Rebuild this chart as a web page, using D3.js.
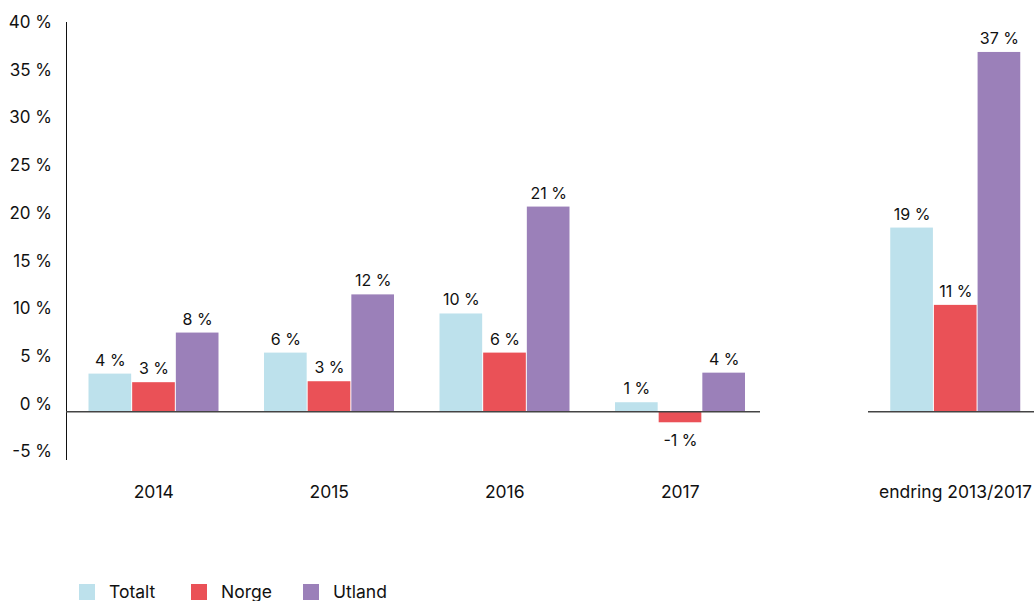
<!DOCTYPE html>
<html>
<head>
<meta charset="utf-8">
<script src="https://cdn.jsdelivr.net/npm/d3@7"></script>
<style>
  body { margin: 0; background: #fff; }
  text { font-family: Inter, "Open Sans", sans-serif; fill: #111; }
</style>
</head>
<body>
<div id="chart"></div>
<script>
const years = ["2014", "2015", "2016", "2017"];
const changeLabel = ["endring 2013/2017"];
const seriesNames = ["Totalt", "Norge", "Utland"];
const totalt = [4.0, 6.2, 10.3, 1.0, 19.3];
const norge = [3.1, 3.2, 6.2, -1.1, 11.2];
const utland = [8.3, 12.3, 21.5, 4.1, 37.7];
const valueLabels = {
  Totalt: ["4 %", "6 %", "10 %", "1 %", "19 %"],
  Norge: ["3 %", "3 %", "6 %", "-1 %", "11 %"],
  Utland: ["8 %", "12 %", "21 %", "4 %", "37 %"]
};
const yTicks = [-5, 0, 5, 10, 15, 20, 25, 30, 35, 40];
const colors = ["#bde1ec", "#ea5157", "#9b80b9"];

const width = 1034, height = 601;
const svg = d3.select("#chart").append("svg")
  .attr("width", width)
  .attr("height", height);

const y = d3.scaleLinear().domain([-5, 40]).range([459.5, 30]);

const color = d3.scaleOrdinal().domain(seriesNames).range(colors);

// two panels: yearly values and total change
const xLeft = d3.scaleBand().domain(years).range([66, 768]);
const xRight = d3.scaleBand().domain(changeLabel).range([867.75, 1043.25]);
const x1 = d3.scaleBand().domain(seriesNames).range([22.5, 153.5]);

const categories = years.concat(changeLabel);
const rows = categories.map((c, i) => ({
  cat: c,
  Totalt: totalt[i],
  Norge: norge[i],
  Utland: utland[i],
  idx: i
}));
const xPos = d => years.includes(d) ? xLeft(d) : xRight(d);

// y axis
const yAxis = svg.append("g")
  .attr("transform", "translate(66,0)")
  .call(d3.axisLeft(y).tickValues(yTicks).tickSize(0).tickPadding(14)
    .tickFormat(d => d + " %"));
yAxis.select(".domain").remove();
yAxis.selectAll("text")
  .attr("dy", "-0.15em")
  .style("font-size", "17px")
  .style("font-family", "Inter, 'Open Sans', sans-serif")
  .style("fill", "#111");

svg.append("line")
  .attr("x1", 66.5).attr("x2", 66.5)
  .attr("y1", 22).attr("y2", 460)
  .attr("stroke", "#111")
  .attr("stroke-width", 1);

// bars
const groups = svg.selectAll("g.group")
  .data(rows)
  .enter()
  .append("g")
  .attr("class", "group")
  .attr("transform", d => `translate(${xPos(d.cat)},0)`);

groups.selectAll("rect")
  .data(d => seriesNames.map(k => ({ key: k, value: d[k], idx: d.idx })))
  .enter()
  .append("rect")
  .attr("x", d => x1(d.key))
  .attr("width", x1.bandwidth() - 1)
  .attr("y", d => y(Math.max(0, d.value)))
  .attr("height", d => Math.abs(y(d.value) - y(0)))
  .attr("fill", d => color(d.key));

groups.selectAll("text.value")
  .data(d => seriesNames.map(k => ({ key: k, value: d[k], idx: d.idx })))
  .enter()
  .append("text")
  .attr("class", "value")
  .attr("x", d => x1(d.key) + x1.bandwidth() / 2)
  .attr("y", d => d.value >= 0 ? y(d.value) - 8 : y(d.value) + 24)
  .attr("text-anchor", "middle")
  .style("font-size", "16px")
  .text(d => valueLabels[d.key][d.idx]);

// baselines
svg.append("line")
  .attr("x1", 66).attr("x2", 760)
  .attr("y1", y(0)).attr("y2", y(0))
  .attr("stroke", "#444")
  .attr("stroke-width", 1.5);

svg.append("line")
  .attr("x1", 868).attr("x2", 1034)
  .attr("y1", y(0)).attr("y2", y(0))
  .attr("stroke", "#444")
  .attr("stroke-width", 1.5);

// category labels
svg.selectAll("text.cat")
  .data(categories)
  .enter()
  .append("text")
  .attr("class", "cat")
  .attr("x", d => xPos(d) + (years.includes(d) ? xLeft.bandwidth() : xRight.bandwidth()) / 2)
  .attr("y", 498)
  .attr("text-anchor", "middle")
  .style("font-size", "17.5px")
  .text(d => d);

// legend
const legend = svg.append("g")
  .attr("transform", "translate(79,584)");

seriesNames.forEach((name, i) => {
  const item = legend.append("g")
    .attr("transform", `translate(${i * 112}, 0)`);
  item.append("rect")
    .attr("width", 16)
    .attr("height", 16)
    .attr("fill", color(name));
  item.append("text")
    .attr("x", 30)
    .attr("y", 14)
    .style("font-size", "17.5px")
    .text(name);
});
</script>
</body>
</html>
